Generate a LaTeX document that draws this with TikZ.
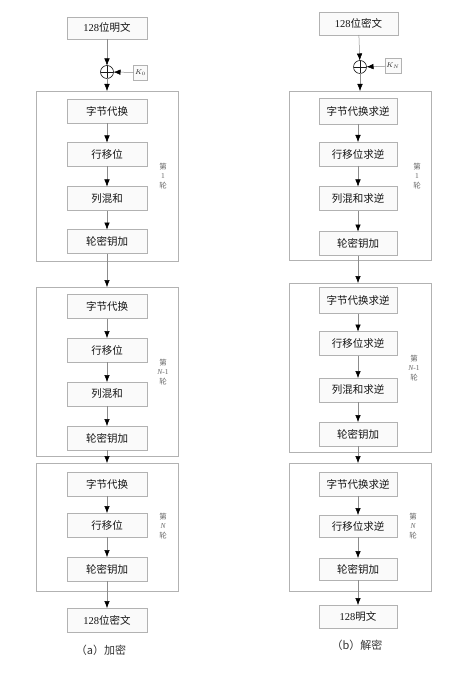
\documentclass[tikz,border=0pt]{standalone}
\usepackage{fontspec}
\setmainfont{Liberation Serif}
\newfontfamily\cjk{Noto Sans CJK SC}
\usetikzlibrary{arrows.meta,shadows}
\tikzset{
  procbox/.style={draw=black!30, fill=gray!4, minimum width=80pt, minimum height=24pt,
    inner sep=0pt, outer sep=0pt, font=\cjk\fontsize{10.5}{12}\selectfont, text=black!92,
    drop shadow={shadow xshift=0.8pt, shadow yshift=-0.8pt, opacity=0.25}},
  roundframe/.style={draw=black!30, minimum width=142pt, inner sep=0pt, outer sep=0pt},
  xorc/.style={circle, draw=black!90, line width=0.6pt, fill=white, minimum size=13pt, inner sep=0pt, outer sep=0pt,
    path picture={\draw[black!90, line width=0.6pt] (path picture bounding box.north) -- (path picture bounding box.south)
      (path picture bounding box.west) -- (path picture bounding box.east);}},
  kbox/.style={draw=black!30, fill=gray!4, minimum width=14pt, minimum height=15pt, inner sep=0pt,
    outer sep=0pt, font=\fontsize{7.5}{8}\selectfont, text=black!85},
  arr/.style={draw=black!45, line width=0.5pt, -{Latex[length=7pt,width=5.5pt,color=black]}},
  lab/.style={font=\cjk\fontsize{7.5}{9.5}\selectfont, text=black!60, align=center},
  captext/.style={font=\cjk\fontsize{11}{13}\selectfont, text=black!80}
}
\begin{document}
\begin{tikzpicture}[x=1pt,y=-1pt]
\useasboundingbox[fill=white] (0,0) rectangle (459,676);
% ---------- left: encryption ----------
\node[roundframe, minimum height=170pt] (lf1) at (107,176) {};
\node[roundframe, minimum height=169pt] (lf2) at (107,371.5) {};
\node[roundframe, minimum height=128pt] (lf3) at (107,527) {};
\node[procbox, minimum height=22pt] (lp) at (107,28) {{\rmfamily 128}位明文};
\node[xorc] (lx) at (107,72) {};
\node[kbox] (lk) at (140.5,72.5) {$K_0$};
\node[procbox] (l11) at (107,111.5) {字节代换};
\node[procbox] (l12) at (107,154.5) {行移位};
\node[procbox] (l13) at (107,198.5) {列混和};
\node[procbox] (l14) at (107,241.5) {轮密钥加};
\node[procbox] (l21) at (107,306.5) {字节代换};
\node[procbox] (l22) at (107,350) {行移位};
\node[procbox] (l23) at (107,394) {列混和};
\node[procbox] (l24) at (107,438) {轮密钥加};
\node[procbox] (l31) at (107,484) {字节代换};
\node[procbox] (l32) at (107,525) {行移位};
\node[procbox] (l33) at (107,569) {轮密钥加};
\node[procbox] (lc) at (107,620) {{\rmfamily 128}位密文};
\node[lab] (ll1) at (163,176) {第\\{\rmfamily 1}\\轮};
\node[lab] (ll2) at (163,372) {第\\{\rmfamily\itshape N\upshape-1}\\轮};
\node[lab] (ll3) at (163,526) {第\\{\rmfamily\itshape N}\\轮};
\node[captext] (capa) at (101,650) {（a）加密};
\draw[arr] (lp) -- (lx);
\draw[arr] (lk) -- (lx);
\draw[arr] (lx) -- (lf1.north);
\draw[arr] (l11) -- (l12);
\draw[arr] (l12) -- (l13);
\draw[arr] (l13) -- (l14);
\draw[arr] (l14) -- (lf2.north);
\draw[arr] (l21) -- (l22);
\draw[arr] (l22) -- (l23);
\draw[arr] (l23) -- (l24);
\draw[arr] (l24) -- (lf3.north);
\draw[arr] (l31) -- (l32);
\draw[arr] (l32) -- (l33);
\draw[arr] (l33) -- (lc);
% ---------- right: decryption ----------
\node[roundframe, minimum height=169pt] (rf1) at (360,175.5) {};
\node[roundframe, minimum height=169pt] (rf2) at (360,367.5) {};
\node[roundframe, minimum height=128pt] (rf3) at (360,527) {};
\node[procbox, minimum width=79pt, minimum height=23pt] (rp) at (358.5,23.5) {{\rmfamily 128}位密文};
\node[xorc] (rx) at (360,67) {};
\node[kbox, minimum width=16pt] (rk) at (393,66) {$K_N$};
\node[procbox, minimum width=78pt, minimum height=26pt] (r11) at (358,111) {字节代换求逆};
\node[procbox, minimum width=78pt] (r12) at (358,154) {行移位求逆};
\node[procbox, minimum width=78pt] (r13) at (358,198.5) {列混和求逆};
\node[procbox, minimum width=78pt] (r14) at (358,243.5) {轮密钥加};
\node[procbox, minimum width=78pt, minimum height=26pt] (r21) at (358,300.5) {字节代换求逆};
\node[procbox, minimum width=78pt] (r22) at (358,343.5) {行移位求逆};
\node[procbox, minimum width=78pt] (r23) at (358,390) {列混和求逆};
\node[procbox, minimum width=78pt] (r24) at (358,434) {轮密钥加};
\node[procbox, minimum width=78pt] (r31) at (358,484) {字节代换求逆};
\node[procbox, minimum width=78pt, minimum height=22pt] (r32) at (358,526) {行移位求逆};
\node[procbox, minimum width=78pt, minimum height=22pt] (r33) at (358,569) {轮密钥加};
\node[procbox, minimum width=78pt, minimum height=23pt] (rc) at (358,616.5) {{\rmfamily 128}明文};
\node[lab] (rl1) at (417,176) {第\\{\rmfamily 1}\\轮};
\node[lab] (rl2) at (414,368) {第\\{\rmfamily\itshape N\upshape-1}\\轮};
\node[lab] (rl3) at (413,526) {第\\{\rmfamily\itshape N}\\轮};
\node[captext] (capb) at (357,645) {（b）解密};
\draw[arr] (rp) -- (rx);
\draw[arr] (rk) -- (rx);
\draw[arr] (rx) -- (rx |- rf1.north);
\draw[arr] (r11) -- (r12);
\draw[arr] (r12) -- (r13);
\draw[arr] (r13) -- (r14);
\draw[arr] (r14) -- (r14 |- rf2.north);
\draw[arr] (r21) -- (r22);
\draw[arr] (r22) -- (r23);
\draw[arr] (r23) -- (r24);
\draw[arr] (r24) -- (r24 |- rf3.north);
\draw[arr] (r31) -- (r32);
\draw[arr] (r32) -- (r33);
\draw[arr] (r33) -- (rc);
\end{tikzpicture}
\end{document}
